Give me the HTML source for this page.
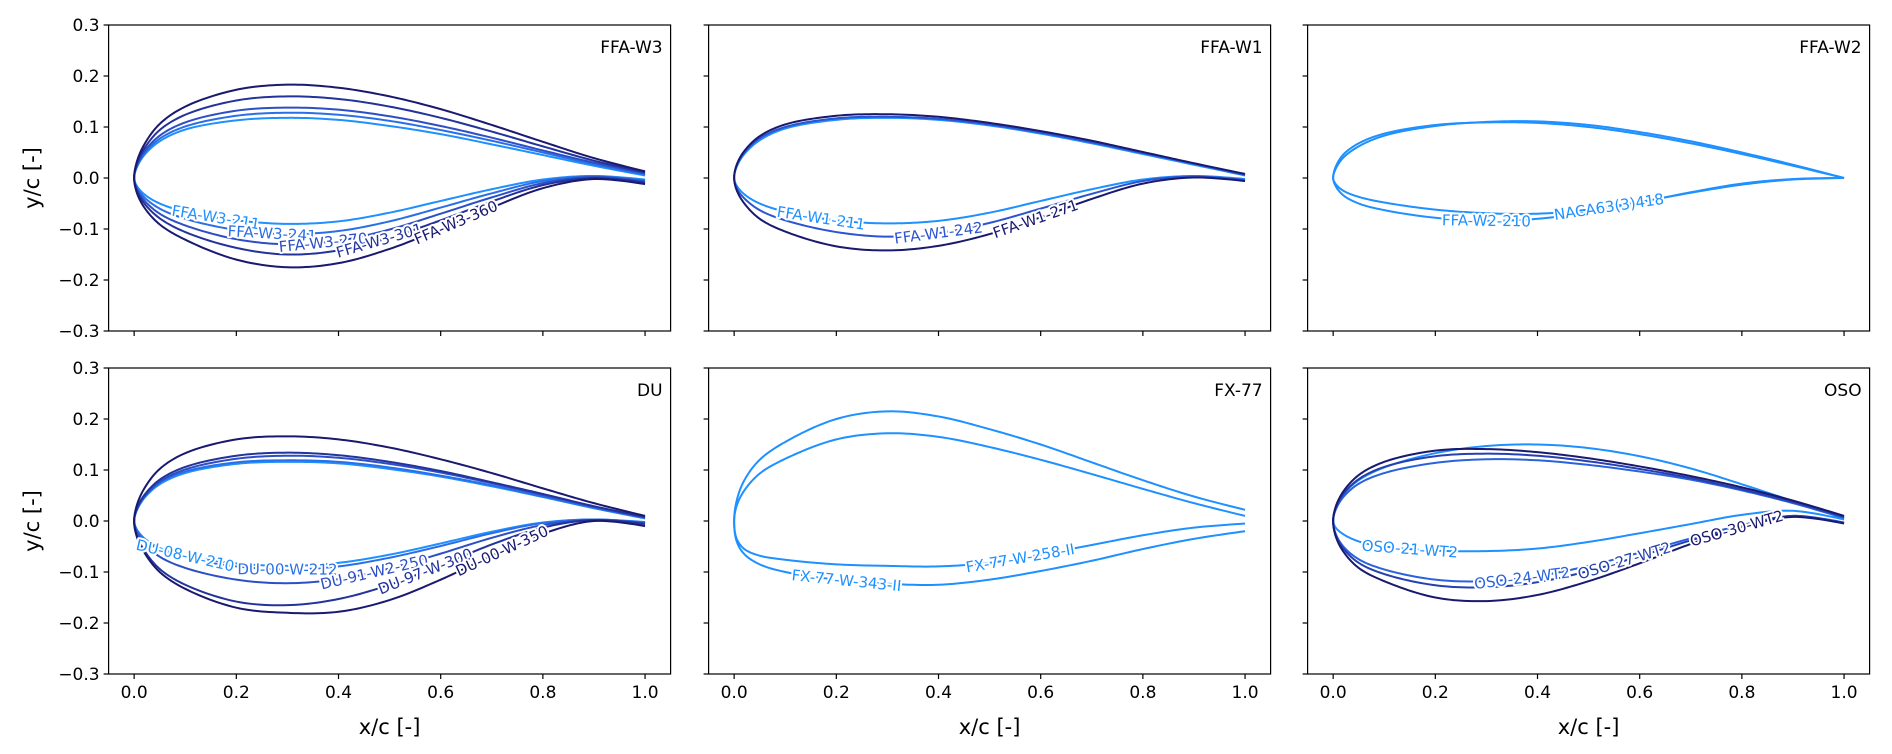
<!DOCTYPE html>
<html><head><meta charset="utf-8">
<style>
html,body{margin:0;padding:0;background:#fff;}
svg{display:block;font-family:"DejaVu Sans","Liberation Sans",sans-serif;}
</style></head>
<body>
<svg id="fig" width="1892" height="754" viewBox="0 0 1892 754" xmlns="http://www.w3.org/2000/svg"></svg>
<script>
// chord stations shared by all airfoil arrays
const stations = [0,0.005,0.02,0.05,0.1,0.2,0.3,0.4,0.5,0.6,0.7,0.8,0.9,1.0];
const xTicks = [0,0.2,0.4,0.6,0.8,1.0];
const xTickLabels = ['0.0','0.2','0.4','0.6','0.8','1.0'];
const yTicks = [0.3,0.2,0.1,0,-0.1,-0.2,-0.3];
const yTickLabels = ['0.3','0.2','0.1','0.0','\u22120.1','\u22120.2','\u22120.3'];
const panelTitles = ['FFA-W3','FFA-W1','FFA-W2','DU','FX-77','OSO'];

// FFA-W3
const w3Names = ['FFA-W3-211','FFA-W3-241','FFA-W3-270','FFA-W3-301','FFA-W3-360'];
const w3Upper = [
 [0,0.02,0.045,0.072,0.095,0.113,0.118,0.114,0.102,0.086,0.066,0.045,0.024,0.005],
 [0,0.022,0.048,0.077,0.101,0.122,0.128,0.124,0.112,0.094,0.073,0.050,0.027,0.007],
 [0,0.024,0.052,0.083,0.109,0.132,0.138,0.134,0.121,0.102,0.079,0.054,0.030,0.009],
 [0,0.027,0.058,0.094,0.124,0.152,0.160,0.155,0.140,0.118,0.091,0.062,0.034,0.011],
 [0,0.031,0.066,0.106,0.140,0.173,0.183,0.177,0.160,0.135,0.104,0.071,0.039,0.013]];
const w3Lower = [
 [0,-0.015,-0.032,-0.05,-0.066,-0.083,-0.090,-0.085,-0.068,-0.045,-0.022,-0.003,0.004,-0.003],
 [0,-0.018,-0.038,-0.06,-0.080,-0.102,-0.110,-0.104,-0.085,-0.058,-0.030,-0.006,0.003,-0.005],
 [0,-0.021,-0.044,-0.07,-0.093,-0.120,-0.130,-0.123,-0.101,-0.070,-0.038,-0.010,0.002,-0.007],
 [0,-0.024,-0.05,-0.079,-0.106,-0.137,-0.150,-0.142,-0.117,-0.083,-0.046,-0.014,0.0,-0.009],
 [0,-0.028,-0.058,-0.091,-0.121,-0.160,-0.175,-0.167,-0.139,-0.100,-0.058,-0.020,-0.002,-0.012]];
const w3LabelX = [0.16,0.27,0.37,0.48,0.63];
const w3Colors = ['#1e90ff','#2b6fe6','#2d4fc6','#23339c','#191970'];

// FFA-W1
const w1Names = ['FFA-W1-211','FFA-W1-242','FFA-W1-271'];
const w1Upper = [
 [0,0.022,0.047,0.074,0.097,0.114,0.118,0.114,0.103,0.087,0.068,0.047,0.026,0.005],
 [0,0.024,0.05,0.078,0.100,0.117,0.120,0.116,0.105,0.089,0.070,0.049,0.028,0.006],
 [0,0.026,0.053,0.082,0.105,0.122,0.125,0.120,0.108,0.092,0.073,0.051,0.029,0.008]];
const w1Lower = [
 [0,-0.015,-0.032,-0.05,-0.066,-0.083,-0.089,-0.084,-0.068,-0.045,-0.022,-0.003,0.004,-0.002],
 [0,-0.02,-0.04,-0.063,-0.083,-0.106,-0.115,-0.108,-0.088,-0.06,-0.031,-0.006,0.003,-0.004],
 [0,-0.024,-0.05,-0.08,-0.105,-0.134,-0.142,-0.133,-0.11,-0.077,-0.041,-0.011,0.001,-0.006]];
const w1LabelX = [0.17,0.40,0.59];
const w1Colors = ['#1e90ff','#2c54d0','#191970'];

// FFA-W2
const w2Names = ['NACA63(3)418','FFA-W2-210'];
const w2Upper = [
 [0,0.018,0.04,0.062,0.083,0.102,0.110,0.111,0.104,0.090,0.072,0.050,0.026,0.0],
 [0,0.022,0.046,0.068,0.087,0.104,0.109,0.108,0.100,0.086,0.068,0.047,0.024,0.0]];
const w2Lower = [
 [0,-0.012,-0.025,-0.037,-0.048,-0.062,-0.069,-0.070,-0.062,-0.047,-0.029,-0.013,-0.003,0.0],
 [0,-0.016,-0.034,-0.05,-0.063,-0.078,-0.084,-0.080,-0.067,-0.048,-0.028,-0.011,-0.002,0.0]];
const w2LabelX = [0.54,0.30];
const w2Colors = ['#1e90ff','#1e90ff'];

// DU
const duNames = ['DU-08-W-210','DU-00-W-212','DU-91-W2-250','DU-97-W-300','DU-00-W-350'];
const duUpper = [
 [0,0.02,0.045,0.072,0.094,0.112,0.116,0.113,0.102,0.087,0.068,0.047,0.025,0.005],
 [0,0.021,0.047,0.075,0.097,0.115,0.119,0.116,0.105,0.089,0.070,0.048,0.026,0.006],
 [0,0.022,0.048,0.077,0.101,0.122,0.128,0.124,0.112,0.095,0.074,0.051,0.028,0.007],
 [0,0.024,0.051,0.081,0.106,0.128,0.134,0.129,0.116,0.098,0.076,0.053,0.029,0.008],
 [0,0.030,0.064,0.102,0.133,0.160,0.166,0.160,0.144,0.121,0.094,0.064,0.035,0.010]];
const duLower = [
 [0,-0.016,-0.034,-0.053,-0.068,-0.083,-0.088,-0.082,-0.066,-0.044,-0.021,-0.003,0.003,-0.002],
 [0,-0.017,-0.036,-0.056,-0.072,-0.089,-0.095,-0.089,-0.072,-0.049,-0.024,-0.004,0.003,-0.003],
 [0,-0.021,-0.044,-0.07,-0.092,-0.115,-0.122,-0.114,-0.093,-0.064,-0.033,-0.008,0.002,-0.004],
 [0,-0.028,-0.058,-0.094,-0.125,-0.158,-0.165,-0.153,-0.125,-0.087,-0.046,-0.013,0.002,-0.006],
 [0,-0.03,-0.062,-0.1,-0.133,-0.170,-0.180,-0.178,-0.155,-0.115,-0.068,-0.025,0.0,-0.01]];
const duLabelX = [0.10,0.30,0.47,0.57,0.72];
const duColors = ['#1e90ff','#2b6fe6','#2d4fc6','#23339c','#191970'];

// FX-77
const fxNames = ['FX-77-W-258-II','FX-77-W-343-II'];
const fxUpper = [
 [0,0.03,0.06,0.093,0.122,0.16,0.172,0.165,0.145,0.12,0.092,0.063,0.035,0.01],
 [0,0.04,0.08,0.12,0.155,0.2,0.215,0.205,0.18,0.15,0.115,0.08,0.048,0.022]];
const fxLower = [
 [0,-0.035,-0.055,-0.068,-0.076,-0.085,-0.088,-0.089,-0.082,-0.066,-0.047,-0.028,-0.013,-0.005],
 [0,-0.04,-0.065,-0.085,-0.1,-0.115,-0.123,-0.125,-0.115,-0.098,-0.078,-0.055,-0.035,-0.02]];
const fxLabelX = [0.56,0.22];
const fxColors = ['#1e90ff','#1e90ff'];

// OSO
const osoNames = ['OSO-21-WT2','OSO-24-WT2','OSO-27-WT2','OSO-30-WT2'];
const osoUpper = [
 [0,0.025,0.052,0.08,0.105,0.133,0.147,0.150,0.143,0.127,0.103,0.072,0.039,0.005],
 [0,0.022,0.047,0.073,0.094,0.114,0.121,0.119,0.110,0.097,0.081,0.060,0.035,0.006],
 [0,0.025,0.053,0.082,0.106,0.127,0.132,0.128,0.117,0.102,0.084,0.062,0.037,0.008],
 [0,0.028,0.058,0.09,0.116,0.138,0.141,0.135,0.123,0.107,0.088,0.066,0.04,0.01]];
const osoLower = [
 [0,-0.013,-0.026,-0.04,-0.05,-0.058,-0.059,-0.054,-0.041,-0.024,-0.006,0.012,0.02,0.003],
 [0,-0.025,-0.05,-0.075,-0.095,-0.115,-0.118,-0.108,-0.088,-0.062,-0.034,-0.008,0.010,-0.003],
 [0,-0.027,-0.054,-0.082,-0.104,-0.126,-0.130,-0.120,-0.098,-0.069,-0.038,-0.010,0.010,-0.004],
 [0,-0.03,-0.06,-0.092,-0.118,-0.150,-0.157,-0.145,-0.118,-0.083,-0.045,-0.012,0.008,-0.005]];
const osoLabelX = [0.15,0.37,0.57,0.79];
const osoColors = ['#1e90ff','#2a62dc','#2540b0','#191970'];

const NS='http://www.w3.org/2000/svg';
const svg=document.getElementById('fig');
function mk(tag,attrs,parent){const e=document.createElementNS(NS,tag);for(const k in attrs)e.setAttribute(k,attrs[k]);(parent||svg).appendChild(e);return e;}

const panelLefts=[108.6,708.6,1307.6];
const panelTops=[25,368];
const PW=562, PH=306;

const panels=[
 {names:w3Names,up:w3Upper,lo:w3Lower,lx:w3LabelX,col:w3Colors},
 {names:w1Names,up:w1Upper,lo:w1Lower,lx:w1LabelX,col:w1Colors},
 {names:w2Names,up:w2Upper,lo:w2Lower,lx:w2LabelX,col:w2Colors},
 {names:duNames,up:duUpper,lo:duLower,lx:duLabelX,col:duColors},
 {names:fxNames,up:fxUpper,lo:fxLower,lx:fxLabelX,col:fxColors},
 {names:osoNames,up:osoUpper,lo:osoLower,lx:osoLabelX,col:osoColors}];

function sample(pts,n){
  const out=[];
  for(let i=0;i<pts.length-1;i++){
    const p0=pts[Math.max(0,i-1)],p1=pts[i],p2=pts[i+1],p3=pts[Math.min(pts.length-1,i+2)];
    const d=(a,b)=>Math.max(1e-6,Math.sqrt(Math.hypot(b[0]-a[0],b[1]-a[1])));
    const t0=0,t1=t0+d(p0,p1),t2=t1+d(p1,p2),t3=t2+d(p2,p3);
    for(let k=0;k<n;k++){
      const t=t1+(t2-t1)*k/n;
      const L=(a,b,ta,tb)=>[ (tb-t)/(tb-ta)*a[0]+(t-ta)/(tb-ta)*b[0], (tb-t)/(tb-ta)*a[1]+(t-ta)/(tb-ta)*b[1] ];
      const A1=L(p0,p1,t0,t1),A2=L(p1,p2,t1,t2),A3=L(p2,p3,t2,t3);
      const B1=L(A1,A2,t0,t2),B2=L(A2,A3,t1,t3);
      out.push(L(B1,B2,t1,t2));
    }
  }
  out.push(pts[pts.length-1]);
  return out;
}

panels.forEach((p,pi)=>{
  const col=pi%3,row=Math.floor(pi/3);
  const L=panelLefts[col],T=panelTops[row];
  const sx=x=>L+(x+0.05)*PW/1.1;
  const sy=y=>T+(0.3-y)*PH/0.6;
  const g=mk('g',{});
  
  
  const clipId='clip'+pi;
  const cp=mk('clipPath',{id:clipId},g);
  mk('rect',{x:L,y:T,width:PW,height:PH},cp);
  const curves=mk('g',{'clip-path':'url(#'+clipId+')'},g);
  const labelItems=[];
  p.names.forEach((nm,ai)=>{
    const lowPts=stations.map((x,i)=>[sx(x),sy(p.lo[ai][i])]).reverse();
    const upPts=stations.map((x,i)=>[sx(x),sy(p.up[ai][i])]);
    const all=lowPts.concat(upPts.slice(1));
    const s=sample(all,14);
    const d='M'+s.map(q=>q[0].toFixed(2)+','+q[1].toFixed(2)).join('L');
    const path=mk('path',{d:d,fill:'none',stroke:p.col[ai],'stroke-width':2},curves);
    
    
    const lowS=sample(stations.map((x,i)=>[sx(x),sy(p.lo[ai][i])]),14);
    const tx=sx(p.lx[ai]);
    let j=0;while(j<lowS.length-2&&lowS[j+1][0]<tx)j++;
    const a=lowS[j],b=lowS[j+1];
    const f=(tx-a[0])/((b[0]-a[0])||1);
    const ty=a[1]+f*(b[1]-a[1]);
    const ang=Math.atan2(b[1]-a[1],b[0]-a[0])*180/Math.PI;
    labelItems.push({nm,tx,ty,ang,c:p.col[ai]});
  });
  labelItems.forEach(it=>{
    const t=mk('text',{x:it.tx,y:it.ty,'text-anchor':'middle','dominant-baseline':'central','font-size':15,fill:it.c,stroke:'#fff','stroke-width':4,'paint-order':'stroke','stroke-linejoin':'round',transform:'rotate('+it.ang.toFixed(2)+' '+it.tx.toFixed(2)+' '+it.ty.toFixed(2)+')'},g);
    t.textContent=it.nm;
    
    
  });
  const fr=mk('rect',{x:L,y:T,width:PW,height:PH,fill:'none',stroke:'#000','stroke-width':1.2},g);
  
  
  xTicks.forEach((v,i)=>{
    const X=sx(v);
    const tk=mk('line',{x1:X,x2:X,y1:T+PH,y2:T+PH+5,stroke:'#000','stroke-width':1.2},g);
    
    
    if(row===1){
      const tl=mk('text',{x:X,y:T+PH+24,'text-anchor':'middle','font-size':17,fill:'#000'},g);
      tl.textContent=xTickLabels[i];
      
      
    }
  });
  yTicks.forEach((v,i)=>{
    const Y=sy(v);
    const tk=mk('line',{x1:L-5,x2:L,y1:Y,y2:Y,stroke:'#000','stroke-width':1.2},g);
    
    
    if(col===0){
      const tl=mk('text',{x:L-9,y:Y+6,'text-anchor':'end','font-size':17,fill:'#000'},g);
      tl.textContent=yTickLabels[i];
      
      
    }
  });
  const ti=mk('text',{x:L+PW-8,y:T+28,'text-anchor':'end','font-size':17,fill:'#000'},g);
  ti.textContent=panelTitles[pi];
  
  
  if(row===1){
    const xl=mk('text',{x:L+PW/2,y:T+PH+60,'text-anchor':'middle','font-size':21,fill:'#000'},g);
    xl.textContent='x/c [-]';
    
    
  }
  if(col===0){
    const cy=T+PH/2;
    const yl=mk('text',{x:32,y:cy,'text-anchor':'middle','dominant-baseline':'central','font-size':21,fill:'#000',transform:'rotate(-90 32 '+cy+')'},g);
    yl.textContent='y/c [-]';
    
    
  }
});
</script>
</body></html>
